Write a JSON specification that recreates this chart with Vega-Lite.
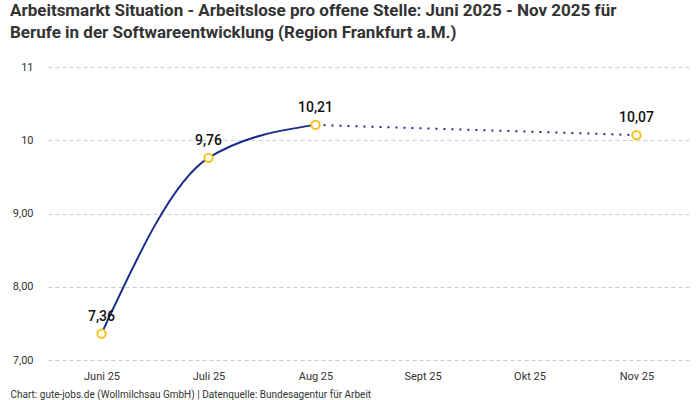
{
  "$schema": "https://vega.github.io/schema/vega-lite/v6.json",
  "width": 700,
  "height": 400,
  "autosize": {"type": "fit", "contains": "padding"},
  "padding": {"left": 10, "top": 2, "right": 10, "bottom": 1},
  "background": "white",
  "config": {
    "font": "Roboto",
    "view": {"stroke": null},
    "locale": {
      "number": {"decimal": ",", "thousands": ".", "grouping": [3], "currency": ["", " €"]}
    }
  },
  "title": {
    "text": [
      "Arbeitsmarkt Situation - Arbeitslose pro offene Stelle: Juni 2025 - Nov 2025 für",
      "Berufe in der Softwareentwicklung (Region Frankfurt a.M.)"
    ],
    "anchor": "start",
    "fontSize": 17,
    "fontWeight": "bold",
    "color": "#333333",
    "lineHeight": 22,
    "offset": 19
  },
  "datasets": {
    "ist": [
      {"monat": "Juni 25", "wert": 7.36},
      {"monat": "Juli 25", "wert": 9.76},
      {"monat": "Aug 25", "wert": 10.21}
    ],
    "trend": [
      {"monat": "Aug 25", "wert": 10.21},
      {"monat": "Nov 25", "wert": 10.07}
    ],
    "punkte": [
      {"monat": "Juni 25", "wert": 7.36},
      {"monat": "Juli 25", "wert": 9.76},
      {"monat": "Aug 25", "wert": 10.21},
      {"monat": "Nov 25", "wert": 10.07}
    ]
  },
  "encoding": {
    "x": {
      "field": "monat",
      "type": "ordinal",
      "scale": {
        "domain": ["Juni 25", "Juli 25", "Aug 25", "Sept 25", "Okt 25", "Nov 25"],
        "type": "point",
        "padding": 0.5
      },
      "axis": {
        "title": "Chart: gute-jobs.de (Wollmilchsau GmbH) | Datenquelle: Bundesagentur für Arbeit",
        "titleFontSize": 10,
        "titleFontWeight": "normal",
        "titleColor": "#333333",
        "titleAlign": "left",
        "titleAnchor": "start",
        "titleX": -38,
        "titleY": 29,
        "labelAngle": 0,
        "labelFontSize": 11,
        "labelColor": "#333333",
        "labelPadding": 10,
        "ticks": false,
        "domain": false,
        "grid": false
      }
    },
    "y": {
      "field": "wert",
      "type": "quantitative",
      "scale": {"domain": [7, 11], "nice": false, "zero": false},
      "axis": {
        "title": null,
        "values": [7, 8, 9, 10, 11],
        "labelExpr": "datum.value >= 10 ? format(datum.value, 'd') : format(datum.value, '.2f')",
        "labelFontSize": 11,
        "labelColor": "#333333",
        "labelPadding": 15,
        "ticks": false,
        "domain": false,
        "grid": true,
        "gridColor": "#cccccc",
        "gridDash": [4, 3]
      }
    }
  },
  "layer": [
    {
      "data": {"name": "ist"},
      "mark": {"type": "line", "interpolate": "monotone", "color": "#1a2e8c", "strokeWidth": 2}
    },
    {
      "data": {"name": "trend"},
      "mark": {"type": "line", "color": "#1a2e8c", "strokeWidth": 2, "strokeDash": [2, 6]}
    },
    {
      "data": {"name": "punkte"},
      "mark": {"type": "point", "shape": "circle", "filled": true, "fill": "white", "stroke": "#f7c21b", "strokeWidth": 2, "size": 70, "opacity": 1}
    },
    {
      "data": {"name": "punkte"},
      "mark": {"type": "text", "dy": -17, "fontSize": 14, "fontWeight": 500, "color": "#111111"},
      "encoding": {"text": {"field": "wert", "type": "quantitative", "format": ".2f"}}
    }
  ]
}
